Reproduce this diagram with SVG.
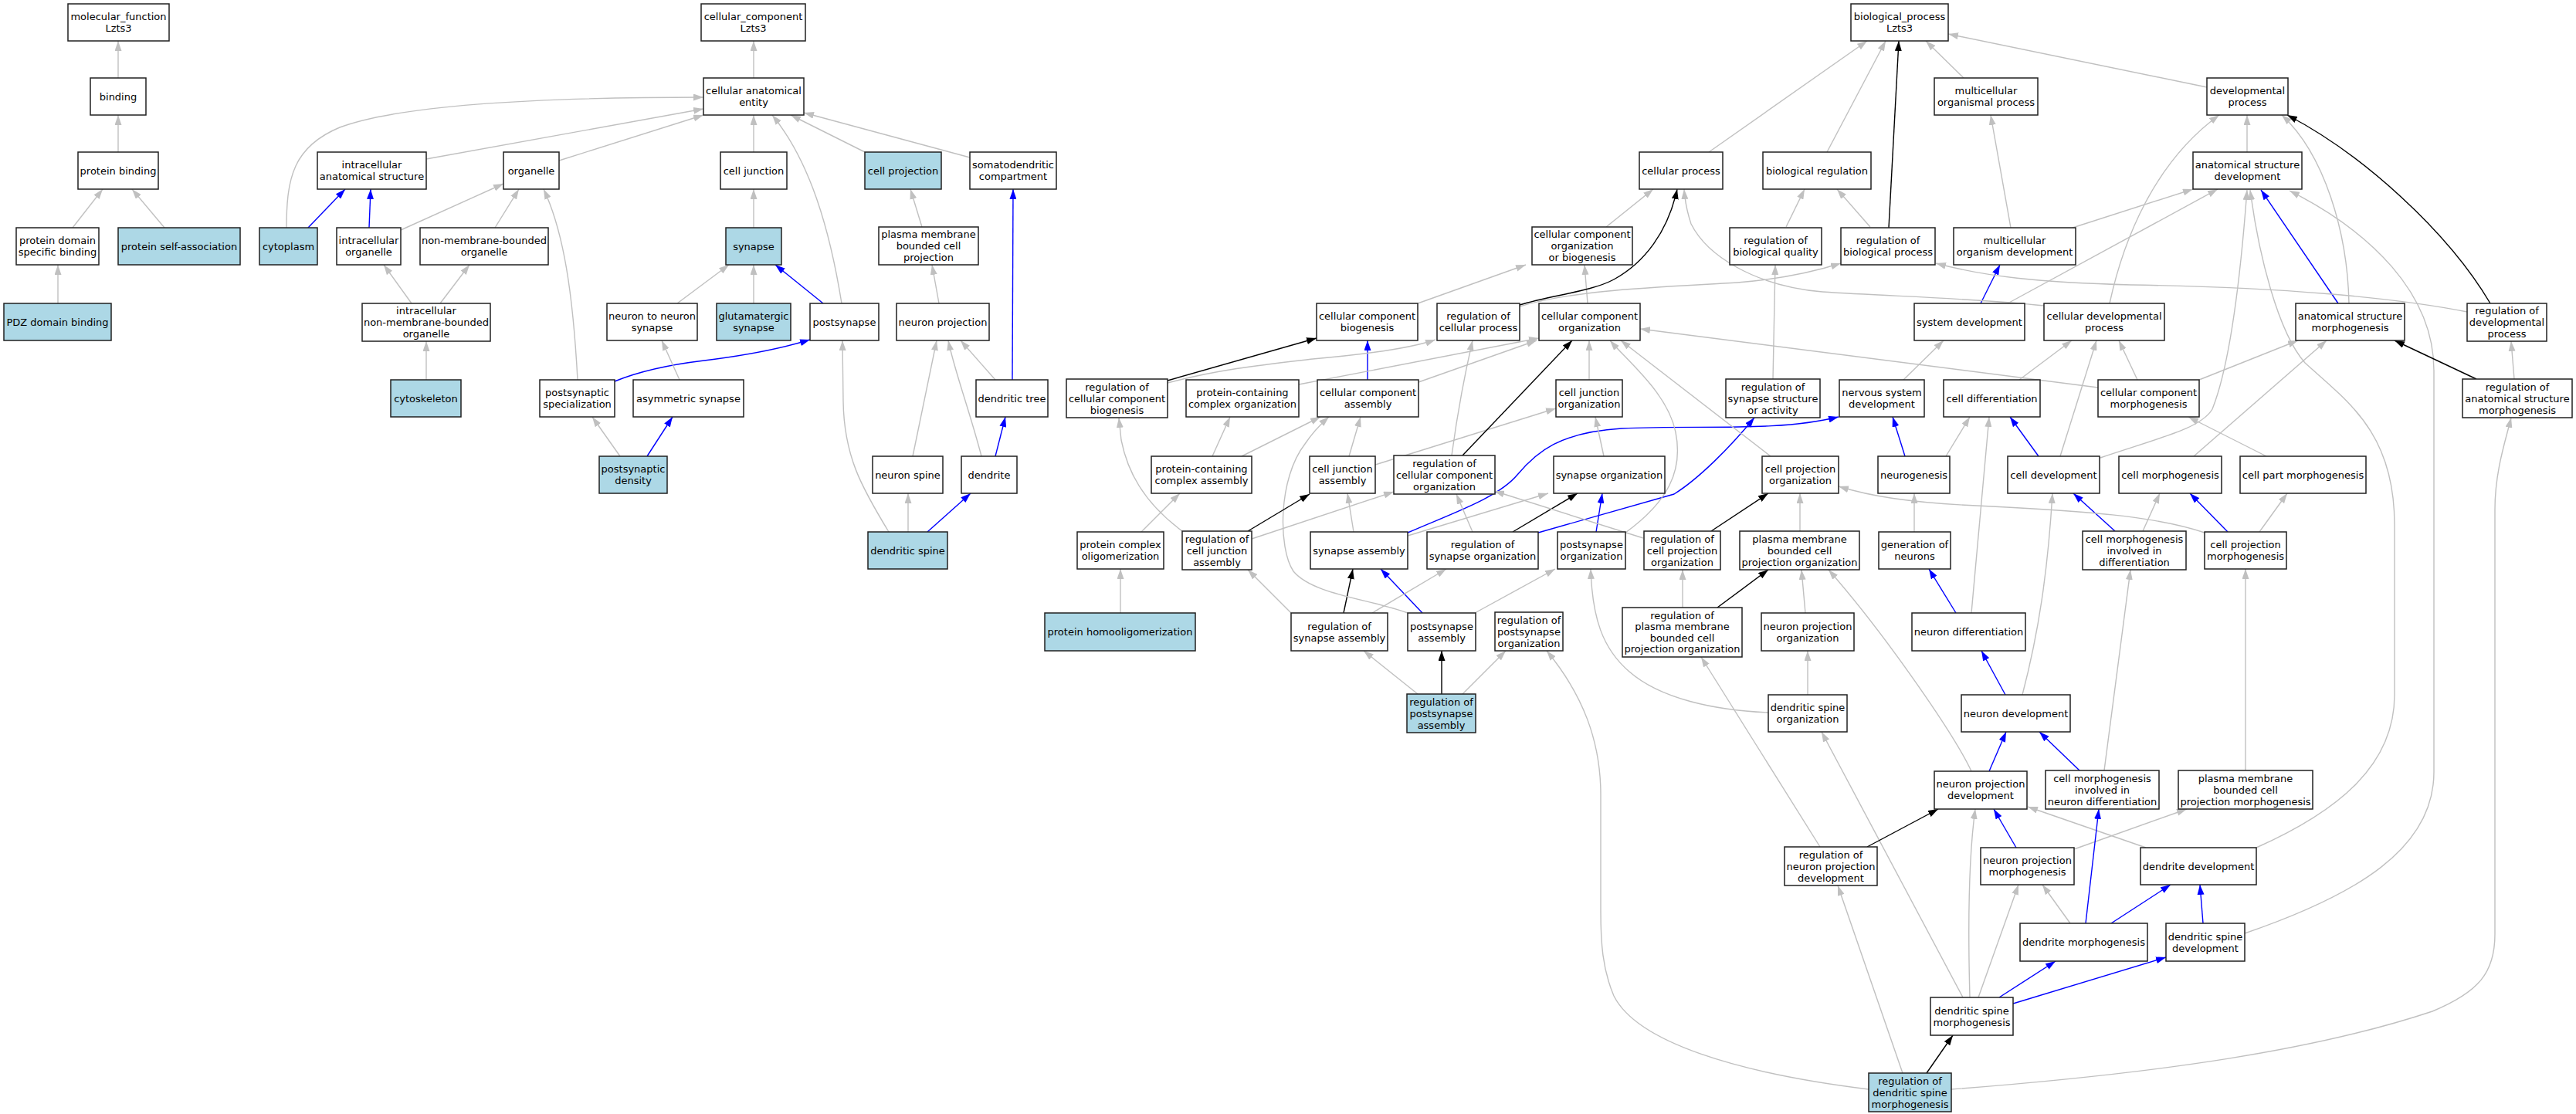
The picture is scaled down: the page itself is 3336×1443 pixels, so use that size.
<svg xmlns="http://www.w3.org/2000/svg" width="3336" height="1443" viewBox="0 0 3336 1443">
<style>
.node rect{fill:#ffffff;stroke:#202020;stroke-width:1.5}
.node.hl rect{fill:#add8e6}
.node text{font-family:"DejaVu Sans",sans-serif;font-size:13px;fill:#000;text-anchor:middle}
#connectors path{fill:none;stroke-width:1.4}
#connectors .g{stroke:#c0c0c0;marker-end:url(#ag)}
#connectors .b{stroke:#0000ff;marker-end:url(#ab)}
#connectors .k{stroke:#000000;marker-end:url(#ak)}
</style>
<defs>
<marker id="ag" viewBox="0 0 13 9" refX="13" refY="4.5" markerWidth="13" markerHeight="9" markerUnits="userSpaceOnUse" orient="auto"><path d="M0,0L13,4.5L0,9z" fill="#c0c0c0"/></marker>
<marker id="ab" viewBox="0 0 13 9" refX="13" refY="4.5" markerWidth="13" markerHeight="9" markerUnits="userSpaceOnUse" orient="auto"><path d="M0,0L13,4.5L0,9z" fill="#0000ff"/></marker>
<marker id="ak" viewBox="0 0 13 9" refX="13" refY="4.5" markerWidth="13" markerHeight="9" markerUnits="userSpaceOnUse" orient="auto"><path d="M0,0L13,4.5L0,9z" fill="#000000"/></marker>
</defs>
<rect x="0" y="0" width="3336" height="1443" fill="#ffffff"/>
<g id="connectors">
<path class="g" d="M153,101 L153,53"/>
<path class="g" d="M153,197 L153,149"/>
<path class="g" d="M94,295 L133,245"/>
<path class="g" d="M213,295 L171,245"/>
<path class="g" d="M75,393 L75,343"/>
<path class="g" d="M976,101 L976,53"/>
<path class="g" d="M371,295 C371,230 380,190 440,165 C520,135 700,126 911,126"/>
<path class="b" d="M399,295 L447,245"/>
<path class="b" d="M478,295 L480,245"/>
<path class="g" d="M552,206 L911,141"/>
<path class="g" d="M724,208 L911,149"/>
<path class="g" d="M519,298 L652,238"/>
<path class="g" d="M641,295 L672,245"/>
<path class="g" d="M533,393 L497,343"/>
<path class="g" d="M570,393 L608,343"/>
<path class="g" d="M552,492 L552,442"/>
<path class="g" d="M748,492 C742,380 730,300 704,245"/>
<path class="g" d="M976,197 L976,149"/>
<path class="g" d="M1090,393 C1075,300 1050,210 1000,149"/>
<path class="g" d="M1120,197 L1024,149"/>
<path class="g" d="M1256,204 L1041,146"/>
<path class="g" d="M976,295 L976,245"/>
<path class="g" d="M1194,294 L1179,245"/>
<path class="g" d="M877,393 L944,343"/>
<path class="g" d="M976,393 L976,343"/>
<path class="b" d="M1066,393 L1004,343"/>
<path class="g" d="M1216,393 L1207,343"/>
<path class="b" d="M1311,492 L1312,245"/>
<path class="b" d="M796,494 C830,480 870,472 912,467 C960,461 1010,452 1049,440"/>
<path class="g" d="M880,492 L857,441"/>
<path class="g" d="M803,591 L767,540"/>
<path class="b" d="M838,591 L871,540"/>
<path class="g" d="M1182,591 C1195,530 1205,480 1213,441"/>
<path class="g" d="M1271,591 C1255,530 1236,480 1228,441"/>
<path class="g" d="M1289,492 L1244,441"/>
<path class="b" d="M1289,591 L1302,540"/>
<path class="g" d="M1176,689 L1176,639"/>
<path class="b" d="M1201,689 L1257,639"/>
<path class="g" d="M1151,689 C1115,630 1093,590 1092,520 L1091,441"/>
<path class="g" d="M2213,197 L2418,53"/>
<path class="g" d="M2366,197 L2442,53"/>
<path class="k" d="M2446,295 L2459,53"/>
<path class="g" d="M2543,101 L2494,53"/>
<path class="g" d="M2858,113 L2523,44"/>
<path class="g" d="M2604,295 L2578,149"/>
<path class="g" d="M2684,295 L2840,245"/>
<path class="g" d="M2910,197 L2910,149"/>
<path class="g" d="M2732,393 C2750,310 2790,210 2874,149"/>
<path class="g" d="M3042,393 C3040,300 3010,200 2955,149"/>
<path class="k" d="M3225,393 C3170,300 3060,200 2962,149"/>
<path class="b" d="M3028,393 L2928,246"/>
<path class="g" d="M2600,393 L2872,245"/>
<path class="b" d="M2565,393 L2590,343"/>
<path class="g" d="M2720,593 C2800,566 2850,555 2865,530 C2885,480 2900,380 2910,246"/>
<path class="g" d="M2922,1098 C3030,1050 3101,990 3101,900 L3101,680 C3101,560 3040,520 2985,470 C2950,430 2925,330 2914,246"/>
<path class="g" d="M2907,1209 C3050,1160 3152,1100 3152,1000 L3152,480 C3152,380 3070,300 2965,247"/>
<path class="g" d="M2527,1411 C2800,1390 3000,1360 3150,1310 C3210,1285 3231,1260 3231,1210 L3231,660 C3231,610 3245,570 3252,541"/>
<path class="k" d="M3207,491 L3101,441"/>
<path class="g" d="M3256,491 L3252,442"/>
<path class="g" d="M3195,404 C3100,385 2950,372 2760,369 C2640,366 2570,358 2507,341"/>
<path class="g" d="M2848,492 L2976,441"/>
<path class="g" d="M2717,502 L2124,426"/>
<path class="g" d="M2841,591 L3013,441"/>
<path class="g" d="M2615,492 L2683,441"/>
<path class="g" d="M2668,591 L2715,441"/>
<path class="g" d="M2768,492 L2744,441"/>
<path class="g" d="M2520,591 L2551,540"/>
<path class="g" d="M2553,794 L2576,540"/>
<path class="b" d="M2640,591 L2603,540"/>
<path class="b" d="M2467,591 L2451,540"/>
<path class="g" d="M2465,492 L2517,441"/>
<path class="g" d="M2479,689 L2479,639"/>
<path class="b" d="M2533,794 L2498,737"/>
<path class="b" d="M2597,900 L2566,843"/>
<path class="g" d="M2619,900 C2640,820 2652,740 2658,639"/>
<path class="b" d="M2739,688 L2685,639"/>
<path class="g" d="M2775,688 L2797,639"/>
<path class="b" d="M2885,689 L2836,639"/>
<path class="g" d="M2926,689 L2962,639"/>
<path class="g" d="M2935,591 L2834,540"/>
<path class="g" d="M2855,690 C2790,668 2700,662 2560,655 C2470,651 2420,642 2381,630"/>
<path class="g" d="M2725,998 L2759,738"/>
<path class="b" d="M2693,998 L2641,948"/>
<path class="b" d="M2576,999 L2598,948"/>
<path class="g" d="M2553,999 C2530,950 2440,820 2368,738"/>
<path class="b" d="M2611,1098 L2582,1048"/>
<path class="g" d="M2686,1100 L2832,1048"/>
<path class="g" d="M2779,1098 L2626,1045"/>
<path class="g" d="M2908,998 L2908,737"/>
<path class="g" d="M2681,1196 L2645,1146"/>
<path class="b" d="M2701,1196 L2718,1048"/>
<path class="b" d="M2734,1196 L2811,1146"/>
<path class="b" d="M2853,1196 L2849,1146"/>
<path class="b" d="M2589,1292 L2662,1245"/>
<path class="b" d="M2607,1300 L2805,1240"/>
<path class="g" d="M2562,1292 L2614,1146"/>
<path class="g" d="M2551,1292 C2549,1220 2548,1120 2558,1048"/>
<path class="g" d="M2542,1292 L2359,948"/>
<path class="g" d="M2341,900 L2341,843"/>
<path class="g" d="M2290,923 C2220,920 2150,905 2110,870 C2075,840 2062,800 2060,737"/>
<path class="g" d="M2338,794 L2333,738"/>
<path class="k" d="M2418,1097 L2510,1048"/>
<path class="g" d="M2357,1097 L2203,851"/>
<path class="g" d="M2464,1390 L2380,1147"/>
<path class="k" d="M2495,1390 L2529,1341"/>
<path class="g" d="M2420,1411 C2250,1390 2120,1350 2090,1290 C2075,1255 2073,1220 2073,1180 L2073,1030 C2073,960 2050,900 2003,843"/>
<path class="k" d="M1867,899 L1867,843"/>
<path class="g" d="M1836,899 L1766,843"/>
<path class="g" d="M1894,899 L1950,843"/>
<path class="b" d="M1842,794 L1788,737"/>
<path class="k" d="M1740,794 L1752,737"/>
<path class="g" d="M1777,794 L1873,737"/>
<path class="g" d="M1672,794 L1616,738"/>
<path class="g" d="M1910,794 L2014,737"/>
<path class="g" d="M1823,794 C1770,775 1700,770 1675,740 C1655,710 1655,620 1690,575 C1700,560 1712,548 1721,540"/>
<path class="g" d="M1753,689 L1745,639"/>
<path class="g" d="M1823,694 L2005,639"/>
<path class="b" d="M1823,690 C1880,665 1940,645 1965,615 C1990,585 2020,560 2100,555 C2200,550 2300,560 2381,540"/>
<path class="g" d="M1747,591 L1762,540"/>
<path class="g" d="M1781,602 L2015,529"/>
<path class="g" d="M1608,591 L1710,540"/>
<path class="g" d="M1570,591 L1593,540"/>
<path class="g" d="M1478,689 L1528,639"/>
<path class="g" d="M1451,794 L1451,737"/>
<path class="k" d="M1616,688 L1696,640"/>
<path class="g" d="M1621,698 L1805,637"/>
<path class="g" d="M1531,688 C1480,650 1460,610 1452,570 L1449,541"/>
<path class="k" d="M1959,689 L2043,639"/>
<path class="b" d="M1992,690 L2168,640 C2200,620 2240,580 2272,541"/>
<path class="g" d="M1907,689 L1886,640"/>
<path class="b" d="M2067,689 L2075,639"/>
<path class="g" d="M2105,690 C2160,650 2180,610 2170,560 C2160,510 2110,470 2085,441"/>
<path class="k" d="M2216,688 L2290,639"/>
<path class="g" d="M2128,697 L1935,636"/>
<path class="g" d="M2331,688 L2331,639"/>
<path class="k" d="M2224,787 L2290,738"/>
<path class="g" d="M2179,787 L2179,738"/>
<path class="g" d="M2293,591 L2099,441"/>
<path class="g" d="M2058,492 L2058,441"/>
<path class="g" d="M2077,591 L2066,540"/>
<path class="b" d="M1771,492 L1771,441"/>
<path class="g" d="M1837,495 L1990,441"/>
<path class="g" d="M1682,498 L1993,438"/>
<path class="k" d="M1512,493 L1705,438"/>
<path class="g" d="M1512,496 C1580,478 1640,472 1700,465 C1780,458 1830,450 1859,440"/>
<path class="g" d="M1880,590 C1888,530 1898,480 1907,441"/>
<path class="k" d="M1894,590 L2036,441"/>
<path class="g" d="M1836,393 L1976,343"/>
<path class="g" d="M2056,393 L2052,343"/>
<path class="g" d="M2080,294 L2141,245"/>
<path class="k" d="M1968,395 C2010,382 2060,378 2090,362 C2130,340 2160,300 2172,245"/>
<path class="g" d="M1968,397 C2040,375 2150,372 2250,366 C2300,362 2340,355 2384,341"/>
<path class="g" d="M2647,396 C2550,386 2450,384 2360,378 C2270,370 2210,330 2190,290 C2185,275 2182,260 2181,245"/>
<path class="g" d="M2313,294 L2337,245"/>
<path class="g" d="M2422,294 L2379,245"/>
<path class="g" d="M2296,491 L2299,343"/>
</g>
<g id="n-mf" class="node"><rect x="88" y="5" width="131" height="48"/><text x="153.5" y="26">molecular_function</text><text x="153.5" y="41">Lzts3</text></g>
<g id="n-cc" class="node"><rect x="908" y="5" width="135" height="48"/><text x="975.5" y="26">cellular_component</text><text x="975.5" y="41">Lzts3</text></g>
<g id="n-bp" class="node"><rect x="2397" y="5" width="126" height="48"/><text x="2460" y="26">biological_process</text><text x="2460" y="41">Lzts3</text></g>
<g id="n-binding" class="node"><rect x="117" y="101" width="72" height="48"/><text x="153" y="129.5">binding</text></g>
<g id="n-cae" class="node"><rect x="911" y="101" width="130" height="48"/><text x="976" y="122">cellular anatomical</text><text x="976" y="137">entity</text></g>
<g id="n-mop" class="node"><rect x="2505" y="101" width="134" height="48"/><text x="2572" y="122">multicellular</text><text x="2572" y="137">organismal process</text></g>
<g id="n-dp" class="node"><rect x="2858" y="101" width="105" height="48"/><text x="2910.5" y="122">developmental</text><text x="2910.5" y="137">process</text></g>
<g id="n-pb" class="node"><rect x="101" y="197" width="104" height="48"/><text x="153" y="225.5">protein binding</text></g>
<g id="n-ias" class="node"><rect x="411" y="197" width="141" height="48"/><text x="481.5" y="218">intracellular</text><text x="481.5" y="233">anatomical structure</text></g>
<g id="n-organelle" class="node"><rect x="652" y="197" width="72" height="48"/><text x="688" y="225.5">organelle</text></g>
<g id="n-cj" class="node"><rect x="933" y="197" width="86" height="48"/><text x="976" y="225.5">cell junction</text></g>
<g id="n-cp" class="node hl"><rect x="1120" y="197" width="99" height="48"/><text x="1169.5" y="225.5">cell projection</text></g>
<g id="n-sdc" class="node"><rect x="1256" y="197" width="112" height="48"/><text x="1312" y="218">somatodendritic</text><text x="1312" y="233">compartment</text></g>
<g id="n-cproc" class="node"><rect x="2123" y="197" width="108" height="48"/><text x="2177" y="225.5">cellular process</text></g>
<g id="n-breg" class="node"><rect x="2283" y="197" width="140" height="48"/><text x="2353" y="225.5">biological regulation</text></g>
<g id="n-asd" class="node"><rect x="2840" y="197" width="141" height="48"/><text x="2910.5" y="218">anatomical structure</text><text x="2910.5" y="233">development</text></g>
<g id="n-pdsb" class="node"><rect x="21" y="295" width="107" height="48"/><text x="74.5" y="316">protein domain</text><text x="74.5" y="331">specific binding</text></g>
<g id="n-psa" class="node hl"><rect x="153" y="295" width="158" height="48"/><text x="232" y="323.5">protein self-association</text></g>
<g id="n-cyto" class="node hl"><rect x="336" y="295" width="75" height="48"/><text x="373.5" y="323.5">cytoplasm</text></g>
<g id="n-io" class="node"><rect x="436" y="295" width="83" height="48"/><text x="477.5" y="316">intracellular</text><text x="477.5" y="331">organelle</text></g>
<g id="n-nmbo" class="node"><rect x="544" y="295" width="166" height="48"/><text x="627" y="316">non-membrane-bounded</text><text x="627" y="331">organelle</text></g>
<g id="n-syn" class="node hl"><rect x="940" y="295" width="72" height="48"/><text x="976" y="323.5">synapse</text></g>
<g id="n-pmbcp" class="node"><rect x="1138" y="294" width="129" height="49"/><text x="1202.5" y="308">plasma membrane</text><text x="1202.5" y="323">bounded cell</text><text x="1202.5" y="338">projection</text></g>
<g id="n-ccob" class="node"><rect x="1984" y="294" width="130" height="49"/><text x="2049" y="308">cellular component</text><text x="2049" y="323">organization</text><text x="2049" y="338">or biogenesis</text></g>
<g id="n-rbq" class="node"><rect x="2240" y="295" width="119" height="48"/><text x="2299.5" y="316">regulation of</text><text x="2299.5" y="331">biological quality</text></g>
<g id="n-rbp" class="node"><rect x="2384" y="295" width="122" height="48"/><text x="2445" y="316">regulation of</text><text x="2445" y="331">biological process</text></g>
<g id="n-mod" class="node"><rect x="2530" y="295" width="158" height="48"/><text x="2609" y="316">multicellular</text><text x="2609" y="331">organism development</text></g>
<g id="n-pdz" class="node hl"><rect x="5" y="393" width="139" height="48"/><text x="74.5" y="421.5">PDZ domain binding</text></g>
<g id="n-inmbo" class="node"><rect x="469" y="393" width="166" height="49"/><text x="552" y="407">intracellular</text><text x="552" y="422">non-membrane-bounded</text><text x="552" y="437">organelle</text></g>
<g id="n-n2n" class="node"><rect x="786" y="393" width="117" height="48"/><text x="844.5" y="414">neuron to neuron</text><text x="844.5" y="429">synapse</text></g>
<g id="n-glut" class="node hl"><rect x="928" y="393" width="96" height="48"/><text x="976" y="414">glutamatergic</text><text x="976" y="429">synapse</text></g>
<g id="n-postsyn" class="node"><rect x="1049" y="393" width="89" height="48"/><text x="1093.5" y="421.5">postsynapse</text></g>
<g id="n-nproj" class="node"><rect x="1161" y="393" width="120" height="48"/><text x="1221" y="421.5">neuron projection</text></g>
<g id="n-ccb" class="node"><rect x="1705" y="393" width="131" height="48"/><text x="1770.5" y="414">cellular component</text><text x="1770.5" y="429">biogenesis</text></g>
<g id="n-rcp" class="node"><rect x="1861" y="393" width="107" height="48"/><text x="1914.5" y="414">regulation of</text><text x="1914.5" y="429">cellular process</text></g>
<g id="n-cco" class="node"><rect x="1993" y="393" width="131" height="48"/><text x="2058.5" y="414">cellular component</text><text x="2058.5" y="429">organization</text></g>
<g id="n-sysdev" class="node"><rect x="2479" y="393" width="143" height="48"/><text x="2550.5" y="421.5">system development</text></g>
<g id="n-cdp" class="node"><rect x="2647" y="393" width="156" height="48"/><text x="2725" y="414">cellular developmental</text><text x="2725" y="429">process</text></g>
<g id="n-asm" class="node"><rect x="2973" y="393" width="141" height="48"/><text x="3043.5" y="414">anatomical structure</text><text x="3043.5" y="429">morphogenesis</text></g>
<g id="n-rdp" class="node"><rect x="3195" y="393" width="103" height="49"/><text x="3246.5" y="407">regulation of</text><text x="3246.5" y="422">developmental</text><text x="3246.5" y="437">process</text></g>
<g id="n-cytosk" class="node hl"><rect x="506" y="492" width="91" height="48"/><text x="551.5" y="520.5">cytoskeleton</text></g>
<g id="n-pss" class="node"><rect x="699" y="492" width="97" height="48"/><text x="747.5" y="513">postsynaptic</text><text x="747.5" y="528">specialization</text></g>
<g id="n-asym" class="node"><rect x="820" y="492" width="143" height="48"/><text x="891.5" y="520.5">asymmetric synapse</text></g>
<g id="n-dtree" class="node"><rect x="1264" y="492" width="93" height="48"/><text x="1310.5" y="520.5">dendritic tree</text></g>
<g id="n-rccb" class="node"><rect x="1381" y="491" width="131" height="50"/><text x="1446.5" y="505.5">regulation of</text><text x="1446.5" y="520.5">cellular component</text><text x="1446.5" y="535.5">biogenesis</text></g>
<g id="n-pcco" class="node"><rect x="1536" y="492" width="146" height="48"/><text x="1609" y="513">protein-containing</text><text x="1609" y="528">complex organization</text></g>
<g id="n-cca" class="node"><rect x="1706" y="492" width="131" height="48"/><text x="1771.5" y="513">cellular component</text><text x="1771.5" y="528">assembly</text></g>
<g id="n-cjo" class="node"><rect x="2015" y="492" width="86" height="48"/><text x="2058" y="513">cell junction</text><text x="2058" y="528">organization</text></g>
<g id="n-rssa" class="node"><rect x="2235" y="491" width="122" height="50"/><text x="2296" y="505.5">regulation of</text><text x="2296" y="520.5">synapse structure</text><text x="2296" y="535.5">or activity</text></g>
<g id="n-nsd" class="node"><rect x="2382" y="492" width="110" height="48"/><text x="2437" y="513">nervous system</text><text x="2437" y="528">development</text></g>
<g id="n-cdiff" class="node"><rect x="2517" y="492" width="125" height="48"/><text x="2579.5" y="520.5">cell differentiation</text></g>
<g id="n-ccm" class="node"><rect x="2717" y="492" width="131" height="48"/><text x="2782.5" y="513">cellular component</text><text x="2782.5" y="528">morphogenesis</text></g>
<g id="n-rasm" class="node"><rect x="3189" y="491" width="142" height="50"/><text x="3260" y="505.5">regulation of</text><text x="3260" y="520.5">anatomical structure</text><text x="3260" y="535.5">morphogenesis</text></g>
<g id="n-psd" class="node hl"><rect x="776" y="591" width="88" height="48"/><text x="820" y="612">postsynaptic</text><text x="820" y="627">density</text></g>
<g id="n-nspine" class="node"><rect x="1130" y="591" width="91" height="48"/><text x="1175.5" y="619.5">neuron spine</text></g>
<g id="n-dendrite" class="node"><rect x="1245" y="591" width="72" height="48"/><text x="1281" y="619.5">dendrite</text></g>
<g id="n-pcca" class="node"><rect x="1491" y="591" width="130" height="48"/><text x="1556" y="612">protein-containing</text><text x="1556" y="627">complex assembly</text></g>
<g id="n-cja" class="node"><rect x="1696" y="591" width="85" height="48"/><text x="1738.5" y="612">cell junction</text><text x="1738.5" y="627">assembly</text></g>
<g id="n-rcco" class="node"><rect x="1805" y="590" width="131" height="50"/><text x="1870.5" y="604.5">regulation of</text><text x="1870.5" y="619.5">cellular component</text><text x="1870.5" y="634.5">organization</text></g>
<g id="n-so" class="node"><rect x="2012" y="591" width="144" height="48"/><text x="2084" y="619.5">synapse organization</text></g>
<g id="n-cpo" class="node"><rect x="2282" y="591" width="99" height="48"/><text x="2331.5" y="612">cell projection</text><text x="2331.5" y="627">organization</text></g>
<g id="n-neurog" class="node"><rect x="2432" y="591" width="93" height="48"/><text x="2478.5" y="619.5">neurogenesis</text></g>
<g id="n-celldev" class="node"><rect x="2600" y="591" width="119" height="48"/><text x="2659.5" y="619.5">cell development</text></g>
<g id="n-cmorph" class="node"><rect x="2744" y="591" width="133" height="48"/><text x="2810.5" y="619.5">cell morphogenesis</text></g>
<g id="n-cpartm" class="node"><rect x="2901" y="591" width="163" height="48"/><text x="2982.5" y="619.5">cell part morphogenesis</text></g>
<g id="n-dspine" class="node hl"><rect x="1124" y="689" width="103" height="48"/><text x="1175.5" y="717.5">dendritic spine</text></g>
<g id="n-pco" class="node"><rect x="1395" y="689" width="112" height="48"/><text x="1451" y="710">protein complex</text><text x="1451" y="725">oligomerization</text></g>
<g id="n-rcja" class="node"><rect x="1531" y="688" width="90" height="50"/><text x="1576" y="702.5">regulation of</text><text x="1576" y="717.5">cell junction</text><text x="1576" y="732.5">assembly</text></g>
<g id="n-sa" class="node"><rect x="1697" y="689" width="126" height="48"/><text x="1760" y="717.5">synapse assembly</text></g>
<g id="n-rso" class="node"><rect x="1848" y="689" width="144" height="48"/><text x="1920" y="710">regulation of</text><text x="1920" y="725">synapse organization</text></g>
<g id="n-pso" class="node"><rect x="2017" y="689" width="88" height="48"/><text x="2061" y="710">postsynapse</text><text x="2061" y="725">organization</text></g>
<g id="n-rcpo" class="node"><rect x="2129" y="688" width="99" height="50"/><text x="2178.5" y="702.5">regulation of</text><text x="2178.5" y="717.5">cell projection</text><text x="2178.5" y="732.5">organization</text></g>
<g id="n-pmbcpo" class="node"><rect x="2253" y="688" width="155" height="50"/><text x="2330.5" y="702.5">plasma membrane</text><text x="2330.5" y="717.5">bounded cell</text><text x="2330.5" y="732.5">projection organization</text></g>
<g id="n-gon" class="node"><rect x="2433" y="689" width="93" height="48"/><text x="2479.5" y="710">generation of</text><text x="2479.5" y="725">neurons</text></g>
<g id="n-cmid" class="node"><rect x="2697" y="688" width="134" height="50"/><text x="2764" y="702.5">cell morphogenesis</text><text x="2764" y="717.5">involved in</text><text x="2764" y="732.5">differentiation</text></g>
<g id="n-cpmorph" class="node"><rect x="2855" y="689" width="106" height="48"/><text x="2908" y="710">cell projection</text><text x="2908" y="725">morphogenesis</text></g>
<g id="n-pho" class="node hl"><rect x="1353" y="794" width="195" height="49"/><text x="1450.5" y="823">protein homooligomerization</text></g>
<g id="n-rsa" class="node"><rect x="1672" y="794" width="125" height="49"/><text x="1734.5" y="815.5">regulation of</text><text x="1734.5" y="830.5">synapse assembly</text></g>
<g id="n-psasm" class="node"><rect x="1823" y="794" width="88" height="49"/><text x="1867" y="815.5">postsynapse</text><text x="1867" y="830.5">assembly</text></g>
<g id="n-rpso" class="node"><rect x="1936" y="793" width="88" height="50"/><text x="1980" y="808">regulation of</text><text x="1980" y="823">postsynapse</text><text x="1980" y="838">organization</text></g>
<g id="n-rpmbcpo" class="node"><rect x="2101" y="787" width="155" height="64"/><text x="2178.5" y="801.75">regulation of</text><text x="2178.5" y="816.25">plasma membrane</text><text x="2178.5" y="830.75">bounded cell</text><text x="2178.5" y="845.25">projection organization</text></g>
<g id="n-npo" class="node"><rect x="2281" y="794" width="120" height="49"/><text x="2341" y="815.5">neuron projection</text><text x="2341" y="830.5">organization</text></g>
<g id="n-ndiff" class="node"><rect x="2476" y="794" width="147" height="49"/><text x="2549.5" y="823">neuron differentiation</text></g>
<g id="n-rpsa" class="node hl"><rect x="1822" y="899" width="89" height="50"/><text x="1866.5" y="913.5">regulation of</text><text x="1866.5" y="928.5">postsynapse</text><text x="1866.5" y="943.5">assembly</text></g>
<g id="n-dso" class="node"><rect x="2290" y="900" width="102" height="48"/><text x="2341" y="921">dendritic spine</text><text x="2341" y="936">organization</text></g>
<g id="n-ndev" class="node"><rect x="2540" y="900" width="141" height="48"/><text x="2610.5" y="928.5">neuron development</text></g>
<g id="n-npd" class="node"><rect x="2505" y="999" width="120" height="49"/><text x="2565" y="1020">neuron projection</text><text x="2565" y="1035">development</text></g>
<g id="n-cmind" class="node"><rect x="2649" y="998" width="147" height="50"/><text x="2722.5" y="1012.5">cell morphogenesis</text><text x="2722.5" y="1027.5">involved in</text><text x="2722.5" y="1042.5">neuron differentiation</text></g>
<g id="n-pmbcpm" class="node"><rect x="2821" y="998" width="174" height="50"/><text x="2908" y="1012.5">plasma membrane</text><text x="2908" y="1027.5">bounded cell</text><text x="2908" y="1042.5">projection morphogenesis</text></g>
<g id="n-rnpd" class="node"><rect x="2311" y="1097" width="120" height="50"/><text x="2371" y="1111.5">regulation of</text><text x="2371" y="1126.5">neuron projection</text><text x="2371" y="1141.5">development</text></g>
<g id="n-npm" class="node"><rect x="2565" y="1098" width="121" height="48"/><text x="2625.5" y="1119">neuron projection</text><text x="2625.5" y="1134">morphogenesis</text></g>
<g id="n-dd" class="node"><rect x="2772" y="1098" width="150" height="48"/><text x="2847" y="1126.5">dendrite development</text></g>
<g id="n-dm" class="node"><rect x="2616" y="1196" width="165" height="49"/><text x="2698.5" y="1225">dendrite morphogenesis</text></g>
<g id="n-dsd" class="node"><rect x="2805" y="1196" width="102" height="49"/><text x="2856" y="1217.5">dendritic spine</text><text x="2856" y="1232.5">development</text></g>
<g id="n-dsm" class="node"><rect x="2500" y="1292" width="107" height="49"/><text x="2553.5" y="1313.5">dendritic spine</text><text x="2553.5" y="1328.5">morphogenesis</text></g>
<g id="n-rdsm" class="node hl"><rect x="2420" y="1390" width="107" height="50"/><text x="2473.5" y="1404.5">regulation of</text><text x="2473.5" y="1419.5">dendritic spine</text><text x="2473.5" y="1434.5">morphogenesis</text></g>
</svg>
